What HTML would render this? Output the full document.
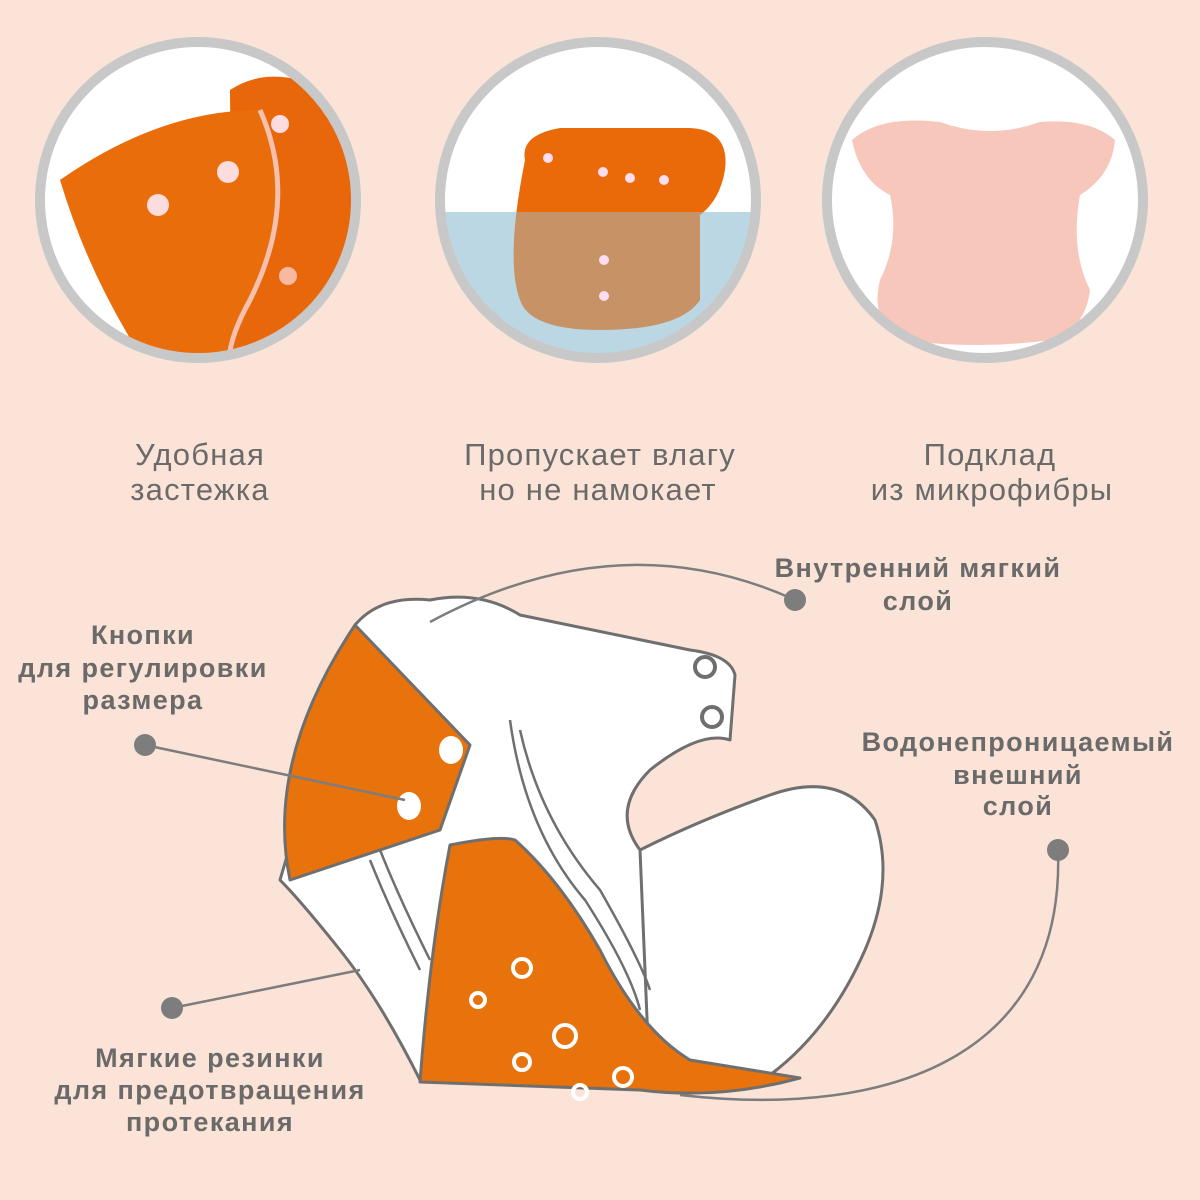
<!DOCTYPE html>
<html><head><meta charset="utf-8"><style>
html,body{margin:0;padding:0;background:#fbe4d7;}
svg{display:block}
text{font-family:"Liberation Sans",sans-serif;}
</style></head><body>
<svg width="1200" height="1200" viewBox="0 0 1200 1200" xmlns="http://www.w3.org/2000/svg">
<rect width="1200" height="1200" fill="#fbe4d7"/>
<defs>
<clipPath id="c1"><circle cx="198" cy="200" r="158"/></clipPath>
<clipPath id="c2"><circle cx="598" cy="200" r="158"/></clipPath>
<clipPath id="c3"><circle cx="985" cy="200" r="158"/></clipPath>
</defs>
<circle cx="198" cy="200" r="158" fill="#fff"/>
<g clip-path="url(#c1)">
<path d="M230,90 Q260,70 300,80 L360,100 L360,360 L210,360 Q240,330 240,280 Q230,160 230,90Z" fill="#e8670a"/>
<path d="M60,180 Q160,110 260,110 Q300,200 250,300 Q220,350 230,370 L150,370 Q90,280 60,180Z" fill="#ea6d0c"/>
<path d="M260,110 Q300,200 250,300 Q225,345 230,370" fill="none" stroke="#f5c0ad" stroke-width="5"/>
<circle cx="158" cy="205" r="11" fill="#fcdcdc"/>
<circle cx="228" cy="172" r="11" fill="#fcdcdc"/>
<circle cx="280" cy="124" r="9" fill="#fcdcdc"/>
<circle cx="288" cy="276" r="9" fill="#f7b9a3"/>
</g>
<circle cx="198" cy="200" r="158" fill="none" stroke="#c8c8c8" stroke-width="10"/>
<circle cx="598" cy="200" r="158" fill="#fff"/>
<g clip-path="url(#c2)">
<rect x="430" y="212" width="340" height="150" fill="#d7e7ee"/>
<path d="M525,160 Q520,135 560,128 L690,128 Q730,130 725,170 Q720,200 700,215 L700,300 Q680,330 600,330 Q530,330 520,300 Q505,260 525,160Z" fill="#ea6a0a"/>
<rect x="430" y="212" width="340" height="150" fill="#9cc4d8" opacity="0.45"/>
<circle cx="548" cy="158" r="5" fill="#fde"/><circle cx="603" cy="172" r="5" fill="#fde"/><circle cx="630" cy="178" r="5" fill="#fde"/><circle cx="664" cy="180" r="5" fill="#fde"/>
<circle cx="604" cy="260" r="5" fill="#fde"/><circle cx="604" cy="296" r="5" fill="#fde"/>
</g>
<circle cx="598" cy="200" r="158" fill="none" stroke="#c8c8c8" stroke-width="10"/>
<circle cx="985" cy="200" r="158" fill="#fff"/>
<g clip-path="url(#c3)">
<path d="M852,140 Q880,115 940,122 Q990,140 1040,122 Q1090,118 1115,140 Q1112,175 1080,195 Q1070,250 1090,290 Q1085,330 1050,340 Q980,350 900,340 Q870,320 880,280 Q900,240 890,195 Q860,180 852,140Z" fill="#f8c7bb"/>
</g>
<circle cx="985" cy="200" r="158" fill="none" stroke="#c8c8c8" stroke-width="10"/>
<g font-size="31" letter-spacing="1.2" fill="#6a6a6a" text-anchor="middle">
<text x="200" y="465">Удобная</text><text x="200" y="500">застежка</text>
<text x="600" y="465">Пропускает влагу</text><text x="598" y="500">но не намокает</text>
<text x="990" y="465">Подклад</text><text x="992" y="500">из микрофибры</text>
</g>
<g stroke="#6f6f6f" stroke-width="3" stroke-linejoin="round" fill="#fff">
<path d="M640,850 Q700,820 770,795 Q840,770 875,820 Q895,880 865,950 Q830,1030 770,1075 L650,1090 Q640,960 640,850Z"/>
<path d="M355,625 Q380,595 430,600 Q480,590 520,615 L690,650 Q730,655 735,675 L730,740 Q700,730 650,770 Q610,810 640,850 L650,1090 L420,1080 Q380,1000 340,950 Q300,900 280,880 Z"/>
<path d="M450,845 Q500,835 515,840 Q560,880 600,950 Q640,1030 690,1060 L800,1078 Q720,1100 640,1090 L420,1082 Q430,950 450,845Z" fill="#e8720c"/>
<path d="M355,625 L470,745 L440,830 L290,880 Q265,760 355,625Z" fill="#e8720c"/>
</g>
<g fill="none" stroke="#6f6f6f" stroke-width="2.5">
<path d="M520,730 Q540,820 600,890 Q640,960 650,990"/>
<path d="M510,720 Q525,830 585,900 Q630,970 640,1010"/>
<path d="M380,850 Q400,900 430,960"/>
<path d="M370,860 Q390,910 420,970"/>
</g>
<g fill="#fff">
<ellipse cx="451" cy="750" rx="12" ry="14"/><ellipse cx="409" cy="806" rx="12" ry="14"/>
</g>
<g fill="none" stroke="#fff" stroke-width="4">
<circle cx="522" cy="968" r="9"/><circle cx="478" cy="1000" r="7"/><circle cx="565" cy="1036" r="11"/>
<circle cx="522" cy="1062" r="8"/><circle cx="580" cy="1092" r="7"/><circle cx="623" cy="1077" r="9"/>
</g>
<g fill="#fff" stroke="#6f6f6f" stroke-width="4">
<circle cx="705" cy="667" r="10"/><circle cx="712" cy="717" r="10"/>
</g>
<g fill="none" stroke="#7d7d7d" stroke-width="2.5">
<path d="M795,600 Q620,520 430,622"/>
<path d="M145,745 L405,800"/>
<path d="M172,1008 L360,970"/>
<path d="M1058,850 C1065,1050 900,1120 680,1095"/>
</g>
<g fill="#7d7d7d">
<circle cx="795" cy="600" r="11"/><circle cx="145" cy="745" r="11"/><circle cx="172" cy="1008" r="11"/><circle cx="1058" cy="850" r="11"/>
</g>
<g font-size="27" letter-spacing="1.4" font-weight="bold" fill="#6a6a6a" text-anchor="middle">
<text x="918" y="577">Внутренний мягкий</text><text x="918" y="610">слой</text>
<text x="143" y="644">Кнопки</text><text x="143" y="677">для регулировки</text><text x="143" y="709">размера</text>
<text x="1018" y="751">Водонепроницаемый</text><text x="1018" y="784">внешний</text><text x="1018" y="815">слой</text>
<text x="210" y="1067">Мягкие резинки</text><text x="210" y="1099">для предотвращения</text><text x="210" y="1131">протекания</text>
</g>
</svg>
</body></html>
